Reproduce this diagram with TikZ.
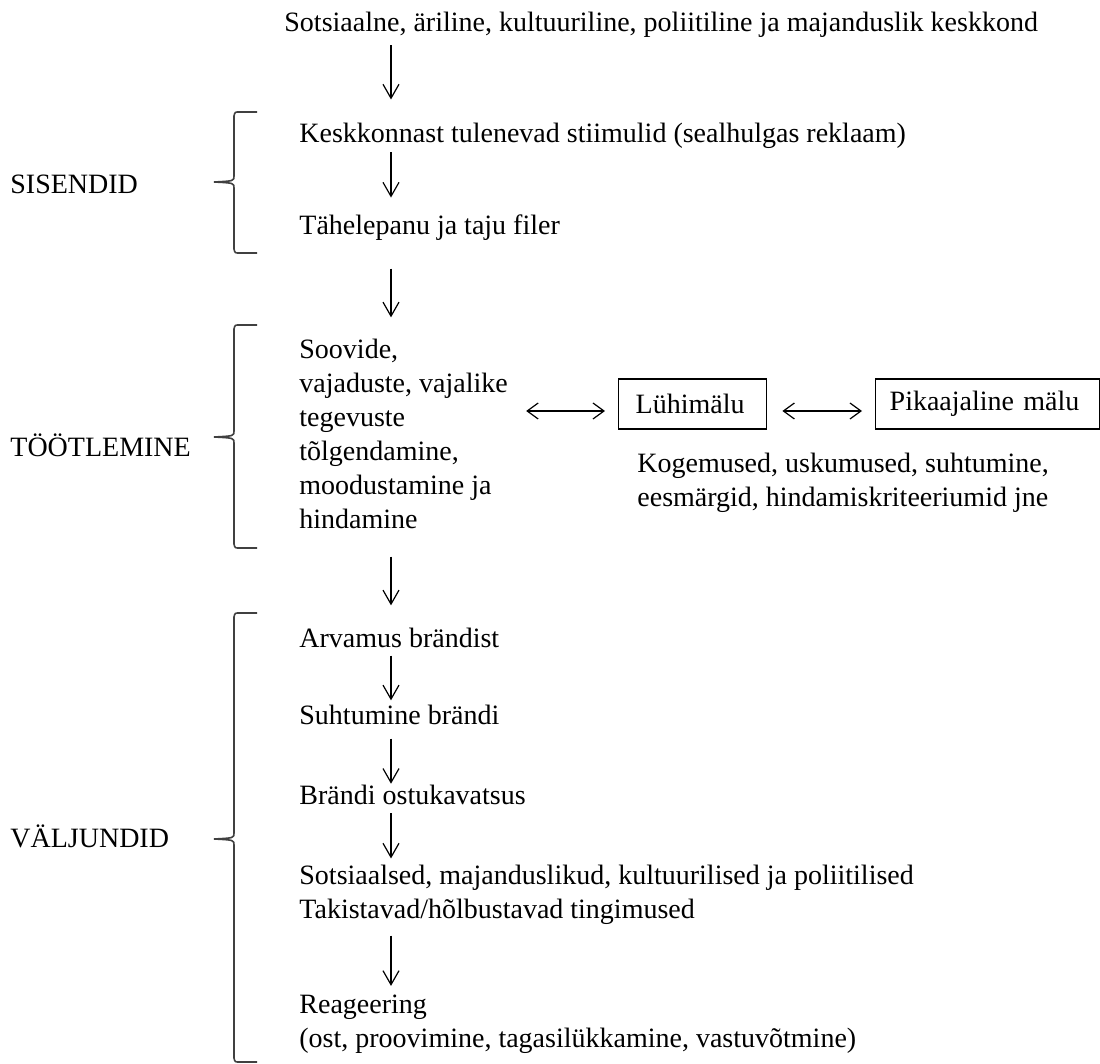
\documentclass[tikz,border=0pt]{standalone}
\usepackage{fontspec}
\setmainfont{Liberation Serif}
\usetikzlibrary{arrows.meta}

\begin{document}
\begin{tikzpicture}[x=0.5pt,y=-0.5pt,
  txt/.style={anchor=west,inner sep=0pt,align=left,font=\fontsize{14}{17}\selectfont},
  mbox/.style={txt,draw,line width=0.7pt,minimum height=25pt},
  flow/.style={-{Straight Barb[length=7pt,width=8pt]},line width=0.6pt},
  both/.style={{Straight Barb[length=5.5pt,width=8pt]}-{Straight Barb[length=5.5pt,width=8pt]},line width=0.6pt},
  brace/.style={line width=0.8pt,black!75}]
  \useasboundingbox (0,0) rectangle (1100,1064);
  \coordinate (col) at (391,0);
  % main column
  \node[txt] (env) at (284,25) {Sotsiaalne, äriline, kultuuriline, poliitiline ja majanduslik keskkond};
  \node[txt] (stim) at (299,136) {Keskkonnast tulenevad stiimulid (sealhulgas reklaam)};
  \node[txt] (filt) at (299,228) {Tähelepanu ja taju filer};
  \node[txt] (proc) at (299,434) {Soovide,\\vajaduste, vajalike\\tegevuste\\tõlgendamine,\\moodustamine ja\\hindamine};
  \node[txt] (opin) at (299,638) {Arvamus brändist};
  \node[txt] (attit) at (299,715) {Suhtumine brändi};
  \node[txt] (intent) at (299,795) {Brändi ostukavatsus};
  \node[txt] (cond) at (299,895) {Sotsiaalsed, majanduslikud, kultuurilised ja poliitilised\\Takistavad/hõlbustavad tingimused};
  \node[txt] (react) at (299,1024) {Reageering\\(ost, proovimine, tagasilükkamine, vastuvõtmine)};
  % memory
  \node[mbox,inner xsep=8.5pt,text width=57pt] (stm) at (618,404) {Lühimälu};
  \node[mbox,inner xsep=7pt,text width=98pt] (ltm) at (875,404) {Pikaajaline mälu};
  \node[txt] (mem) at (637,483) {Kogemused, uskumused, suhtumine,\\eesmärgid, hindamiskriteeriumid jne};
  % stage labels
  \node[txt] (inp) at (10,184) {SISENDID};
  \node[txt] (work) at (10,445) {TÖÖTLEMINE};
  \node[txt] (outp) at (10,836) {VÄLJUNDID};
  % arrows
  \foreach \a/\b/\s/\e in {env/stim/3.7/11.7, stim/filt/1.5/8.6, filt/proc/13.7/10.7, proc/opin/13.7/11.2,
      opin/attit/3.7/2.2, attit/intent/6.7/0.5, intent/cond/4/3.2, cond/react/5.2/4.2}
    \draw[flow,shorten <=\s pt,shorten >=\e pt] (\a.south -| col) -- (\b.north -| col);
  \draw[both,shorten <=9pt,shorten >=6.5pt] ([yshift=-3.5pt]proc.east |- stm.west) -- ([yshift=-3.5pt]stm.west);
  \draw[both,shorten <=7.5pt,shorten >=6.5pt] ([yshift=-3.5pt]stm.east) -- ([yshift=-3.5pt]ltm.west);
  % braces
  \foreach \t/\m/\b in {112/182/253, 325/437/548, 613/839/1062}
    \draw[brace] (257,\t) -- (239,\t) .. controls (235,\t) .. (234,\t+4) -- (234,\m-6)
      .. controls (234,\m-1) .. (214,\m) .. controls (234,\m+1) .. (234,\m+6)
      -- (234,\b-4) .. controls (235,\b) .. (239,\b) -- (257,\b);
\end{tikzpicture}
\end{document}
